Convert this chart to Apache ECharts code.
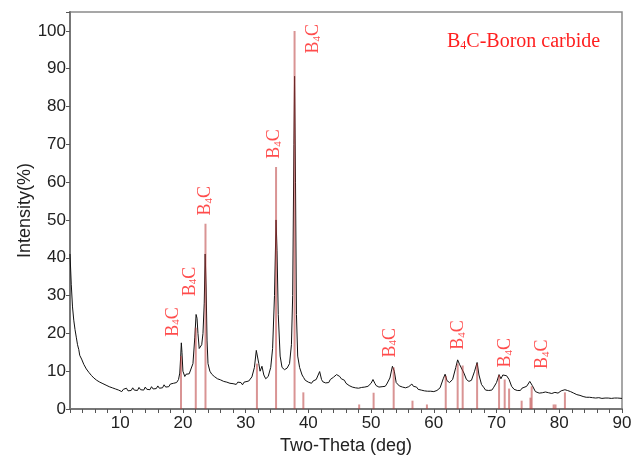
<!DOCTYPE html>
<html>
<head>
<meta charset="utf-8">
<script src="https://cdn.jsdelivr.net/npm/echarts@6/dist/echarts.min.js"></script>
<style>
  html, body { margin: 0; padding: 0; background: #fff; }
  #main { width: 642px; height: 456px; }
</style>
</head>
<body>
<div id="main"></div>
<script>
// measured XRD profile, [two-theta, intensity %]
var profile = [
  [2.0,41],[2.2,33],[2.4,27],[2.6,23.5],[2.8,21],[3.0,19],[3.2,17],[3.4,15.7],[3.55,14.2],[3.7,14.6],
  [3.85,13.2],[4.0,12.9],[4.2,11.8],[4.4,11.6],[4.6,10.6],[4.8,10.8],[5.0,9.7],[5.2,9.9],[5.4,8.9],
  [5.6,9.1],[5.8,8.2],[6.0,8.5],[6.25,7.6],[6.5,8.0],[6.75,7.1],[7.0,7.4],[7.25,6.7],[7.5,7.1],
  [7.75,6.3],[8.0,6.6],[8.25,5.9],[8.5,6.3],[8.75,5.6],[9.0,6.0],[9.25,5.3],[9.5,5.8],[9.75,5.0],
  [10.0,5.4],[10.25,4.6],[10.5,5.2],[10.75,4.7],[11.0,5.5],[11.25,4.8],[11.5,5.3],[11.75,4.9],
  [12.0,5.6],[12.25,5.0],[12.5,5.4],[12.75,4.9],[13.0,5.7],[13.25,5.1],[13.5,5.6],[13.75,5.0],
  [14.0,5.8],[14.25,5.2],[14.5,5.7],[14.75,5.1],[15.0,5.9],[15.25,5.3],[15.5,5.8],[15.75,5.4],
  [16.0,6.1],[16.25,5.5],[16.5,6.0],[16.75,5.6],[17.0,6.4],[17.25,5.8],[17.5,6.3],[17.75,5.9],
  [18.0,6.6],[18.25,6.1],[18.5,6.8],[18.75,6.4],[19.0,7.0],[19.3,7.8],[19.5,9.5],[19.65,14],[19.75,17.5],
  [19.85,15],[20.0,10],[20.3,8.6],[20.5,9.2],[20.7,8.7],[21.0,9.3],[21.3,9.5],[21.6,12],[21.9,19],[22.1,25],
  [22.25,24],[22.4,20],[22.6,16],[22.8,15.8],[23.0,17],[23.2,20],[23.4,28],[23.55,41],[23.7,32],
  [23.85,18],[24.0,12],[24.3,10],[24.6,9.2],[24.8,9.6],[25.0,8.6],[25.25,8.9],[25.5,8.0],[25.75,8.4],
  [26.0,7.7],[26.25,8.1],[26.5,7.3],[26.75,7.8],[27.0,7.1],[27.25,7.5],[27.5,6.8],[27.75,7.3],
  [28.0,6.7],[28.25,7.2],[28.5,6.5],[28.75,7.1],[29.0,6.6],[29.25,7.0],[29.5,6.4],[29.75,7.1],
  [30.0,6.8],[30.5,7.4],[31.0,8.5],[31.4,11],
  [31.7,15.5],[31.9,15.8],[32.1,12],[32.3,10],[32.6,11.3],[32.9,9],[33.2,8],[33.6,8.6],[34.0,11],
  [34.3,16],[34.6,30],[34.85,50],[35.0,42],[35.2,25],[35.5,14],[35.8,11],[36.2,10.4],[36.6,10.8],
  [37.0,12],[37.3,17],[37.5,30],[37.7,70],[37.8,88],[37.95,60],[38.1,25],[38.3,14],[38.6,11],
  [39.0,9],[39.25,8.3],[39.5,7.6],[39.75,8.1],[40.0,7.1],[40.25,7.6],[40.5,6.8],[40.75,7.4],[41.0,7.1],
  [41.25,7.8],[41.5,8.2],[41.8,9.9],[42.1,7.8],[42.3,7.2],[42.5,7.5],[42.75,6.9],
  [43.0,7.4],[43.25,7.0],[43.5,7.8],[43.75,7.6],[44.0,8.4],[44.5,9.1],[45.0,8.6],[45.25,8.0],[45.5,7.5],
  [45.75,7.6],[46.0,6.8],[46.25,6.9],[46.5,6.2],[46.75,6.4],[47.0,5.8],[47.25,6.2],
  [47.5,5.6],[47.75,6.0],[48.0,5.5],[48.25,5.9],[48.5,5.7],[48.75,6.1],[49.0,5.8],[49.25,6.3],[49.5,6.0],
  [49.75,6.4],[50.0,6.8],[50.3,7.8],[50.6,6.8],[50.8,6.2],[51.0,6.4],[51.25,5.8],
  [51.5,6.2],[51.75,5.9],[52.0,6.3],[52.25,6.0],[52.5,6.6],[53.0,8.2],[53.4,11.3],[53.7,10],[54.0,7.0],
  [54.25,6.6],[54.5,6.1],[54.75,6.4],[55.0,5.8],[55.25,6.1],
  [55.5,5.6],[55.75,6.0],[56.0,5.9],[56.5,6.6],[56.75,6.0],[57.0,5.6],[57.25,5.8],[57.5,5.2],[57.75,5.5],
  [58.0,5.0],[58.25,5.4],[58.5,4.8],[58.75,5.2],[59.0,4.7],[59.25,5.1],[59.5,4.7],
  [59.75,5.0],[60.0,4.6],[60.25,5.1],[60.5,4.9],[61.0,5.6],[61.5,8],[61.8,9.2],[62.1,7.5],[62.5,7.0],
  [63.0,7.8],[63.5,11],
  [63.8,13],[64.1,11.8],[64.4,12.2],[64.8,9.5],[65.2,7.8],[65.6,7.3],[66.0,7.6],[66.5,10],[66.9,12.3],
  [67.2,9],[67.6,6.5],[68.0,5.6],[68.25,5.0],[68.5,5.4],[68.75,4.9],[69.0,5.3],[69.25,5.0],[69.5,5.6],
  [70.0,7],[70.4,9.1],[70.7,8],
  [71.0,9],[71.3,9.4],[71.6,8.8],[72.0,7.8],[72.4,6.0],[72.6,5.6],[72.8,5.2],[73.05,5.6],[73.3,4.9],
  [73.55,5.4],[73.8,4.9],[74.05,5.5],[74.3,5.2],
  [74.8,6.0],[75.3,7.3],[75.7,6.2],[76.2,4.6],[76.5,4.9],[76.8,4.2],[77.05,4.6],[77.3,4.3],[77.55,4.7],
  [77.8,4.5],[78.05,4.9],[78.3,4.3],[78.55,4.5],[78.8,4.1],
  [79.05,4.6],[79.3,4.4],[79.55,4.6],[79.8,4.2],[80.05,4.6],[80.3,4.8],[80.9,5.1],[81.1,4.7],[81.3,4.9],
  [81.55,4.4],[81.8,4.6],[82.05,4.1],[82.3,4.2],[82.55,3.7],[82.8,3.8],
  [83.05,3.3],[83.3,3.6],[83.55,3.1],[83.8,3.3],[84.05,2.9],[84.3,3.1],[84.55,2.8],[84.8,3.1],
  [85.05,2.7],[85.3,3.0],[85.55,2.7],[85.8,2.9],[86.05,2.6],[86.3,3.0],[86.55,2.7],[86.8,2.8],
  [87.05,2.5],[87.3,2.9],[87.55,2.6],[87.8,2.9],[88.05,2.6],[88.3,2.8],[88.55,2.5],[88.8,2.9],
  [89.05,2.6],[89.3,2.9],[89.6,2.6],[90.0,2.8]
];

// reference card B4C: positions and relative intensities
var stickPos = [19.7, 22.05, 23.6, 31.8, 34.85, 37.8, 39.2, 48.1, 50.4, 53.6, 56.6, 58.9, 61.9,
                63.8, 64.6, 66.9, 70.4, 71.3, 72.0, 74.0, 75.4, 75.6, 79.1, 79.4, 80.9];
var stickInt = [14, 21.5, 49, 12, 64, 100, 4.4, 1.2, 4.3, 11, 2.2, 1.2, 8.8,
                12, 11.5, 12, 9, 7.8, 5.4, 2.2, 3.0, 6.0, 1.2, 1.2, 4.4];

// where the phase labels sit (two-theta, intensity)
var labelAt = [[18.4, 19.1], [21.1, 29.8], [23.6, 51.2], [34.6, 66.2], [40.8, 94],
               [53.0, 13.6], [63.9, 15.7], [71.4, 11], [77.3, 10.6]];

var chartDom = document.getElementById('main');
var myChart = echarts.init(chartDom, null, { renderer: 'canvas' });

var sticks = [];
for (var i = 0; i < stickPos.length; i++) {
  sticks.push([stickPos[i], stickInt[i]]);
}

var serif = "'Liberation Serif', 'Times New Roman', serif";
var sans = "'Liberation Sans', Arial, sans-serif";
var red = '#ff1f1f';

var option = {
  animation: false,
  backgroundColor: '#fff',
  grid: {
    left: 70, right: 20, top: 12, bottom: 47,
    outerBoundsMode: 'none',
    containLabel: false,
    show: true, borderColor: '#8a8a8a', borderWidth: 1.5
  },
  xAxis: {
    type: 'value',
    min: 2, max: 90, interval: 2,
    name: 'Two-Theta (deg)',
    nameLocation: 'middle',
    nameGap: 28,
    nameMoveOverlap: false,
    nameTextStyle: { fontSize: 18, color: '#222', fontFamily: sans },
    axisLine: { lineStyle: { color: '#777', width: 2 } },
    axisTick: { length: 4, lineStyle: { color: '#555' } },
    axisLabel: {
      margin: 6, fontSize: 17, color: '#222', fontFamily: sans,
      formatter: function (v) { return v % 10 === 0 ? String(v) : ''; }
    },
    splitLine: { show: false }
  },
  yAxis: {
    type: 'value',
    min: 0, max: 105, interval: 10,
    name: 'Intensity(%)',
    nameLocation: 'middle',
    nameGap: 36,
    nameMoveOverlap: false,
    nameTextStyle: { fontSize: 18, color: '#222', fontFamily: sans },
    axisLine: { show: true, lineStyle: { color: '#777', width: 2 } },
    axisTick: { show: true, length: 4, lineStyle: { color: '#555' } },
    axisLabel: {
      margin: 4, fontSize: 17, color: '#222', fontFamily: sans,
      formatter: function (v) { return v % 10 === 0 ? String(v) : ''; }
    },
    splitLine: { show: false }
  },
  graphic: [{
    type: 'text',
    left: 447, top: 32,
    style: {
      text: '{b|B}{s|4}{b|C-Boron carbide}',
      rich: {
        b: { fontSize: 20, fontFamily: serif, fill: red },
        s: { fontSize: 12, fontFamily: serif, fill: red, verticalAlign: 'bottom' }
      }
    }
  }],
  series: [
    {
      type: 'line',
      data: profile,
      showSymbol: false,
      symbol: 'none',
      lineStyle: { color: '#111', width: 1 },
      z: 2
    },
    {
      type: 'custom',
      data: sticks,
      z: 3,
      renderItem: function (params, api) {
        var p0 = api.coord([api.value(0), 0]);
        var p1 = api.coord([api.value(0), api.value(1)]);
        return {
          type: 'line',
          shape: { x1: p0[0], y1: p0[1], x2: p1[0], y2: p1[1] },
          style: { stroke: 'rgba(185,60,60,0.55)', lineWidth: 2 }
        };
      }
    },
    {
      type: 'scatter',
      data: labelAt,
      symbolSize: 0,
      z: 4,
      label: {
        show: true,
        position: [0, 0],
        rotate: 90,
        align: 'left',
        verticalAlign: 'middle',
        formatter: '{b|B}{s|4}{b|C}',
        rich: {
          b: { fontSize: 18, fontFamily: serif, color: red },
          s: { fontSize: 11, fontFamily: serif, color: red, verticalAlign: 'bottom' }
        }
      }
    }
  ]
};

option && myChart.setOption(option);
</script>
</body>
</html>
